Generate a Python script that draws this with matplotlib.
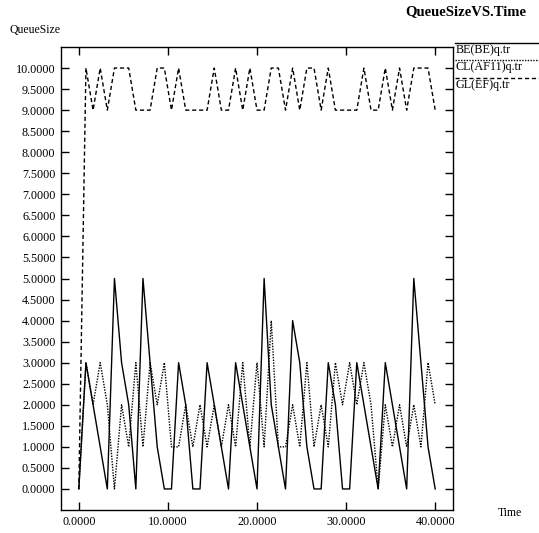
import numpy as np
import matplotlib
matplotlib.use("Agg")
import matplotlib.pyplot as plt
from matplotlib.lines import Line2D
from matplotlib.ticker import FormatStrFormatter, FixedLocator

plt.rcParams['font.family'] = ['Liberation Serif', 'DejaVu Serif']

# sample times (step 0.8)
time = [0.0, 0.8, 1.6, 2.4, 3.2, 4.0, 4.8, 5.6, 6.4, 7.2,
        8.0, 8.8, 9.6, 10.4, 11.2, 12.0, 12.8, 13.6, 14.4, 15.2,
        16.0, 16.8, 17.6, 18.4, 19.2, 20.0, 20.8, 21.6, 22.4, 23.2,
        24.0, 24.8, 25.6, 26.4, 27.2, 28.0, 28.8, 29.6, 30.4, 31.2,
        32.0, 32.8, 33.6, 34.4, 35.2, 36.0, 36.8, 37.6, 38.4, 39.2,
        40.0]

be_q = [0, 3, 2, 1, 0, 5, 3, 2, 0, 5,
        3, 1, 0, 0, 3, 2, 0, 0, 3, 2,
        1, 0, 3, 2, 1, 0, 5, 2, 1, 0,
        4, 3, 1, 0, 0, 3, 2, 0, 0, 3,
        2, 1, 0, 3, 2, 1, 0, 5, 3, 1,
        0]

cl_q = [0, 3, 2, 3, 2, 0, 2, 1, 3, 1,
        3, 2, 3, 1, 1, 2, 1, 2, 1, 2,
        1, 2, 1, 3, 1, 3, 1, 4, 1, 1,
        2, 1, 3, 1, 2, 1, 3, 2, 3, 2,
        3, 2, 0, 2, 1, 2, 1, 2, 1, 3,
        2]

gl_q = [0, 10, 9, 10, 9, 10, 10, 10, 9, 9,
        9, 10, 10, 9, 10, 9, 9, 9, 9, 10,
        9, 9, 10, 9, 10, 9, 9, 10, 10, 9,
        10, 9, 10, 10, 9, 10, 9, 9, 9, 9,
        10, 9, 9, 10, 9, 10, 9, 10, 10, 10,
        9]

series = [("BE(BE)q.tr", be_q, '-'),
          ("CL(AF11)q.tr", cl_q, (0, (1, 1))),
          ("GL(EF)q.tr", gl_q, (0, (3, 2)))]

x_ticks = [0, 10, 20, 30, 40]
y_ticks = np.arange(0, 10.01, 0.5)

W, H = 539, 533
fig = plt.figure(figsize=(W / 100, H / 100), dpi=100)
ax = fig.add_axes([61 / W, 1 - 510 / H, (453 - 61) / W, (510 - 47) / H])

for name, vals, ls in series:
    ax.plot(time, vals, color='black', lw=1.0, linestyle=ls)

ax.set_xlim(-2, 42)
ax.set_ylim(-0.5, 10.5)
ax.xaxis.set_major_locator(FixedLocator(x_ticks))
ax.yaxis.set_major_locator(FixedLocator(y_ticks))
ax.xaxis.set_major_formatter(FormatStrFormatter('%.4f'))
ax.yaxis.set_major_formatter(FormatStrFormatter('%.4f'))
ax.tick_params(direction='in', length=6, width=1, labelsize=8.7,
               top=True, right=True, pad=4)
for s in ax.spines.values():
    s.set_linewidth(1)

fig.text(466 / W, 1 - 12 / H, "QueueSizeVS.Time", ha='center', va='center',
         fontsize=10.5, fontweight='bold')
fig.text(10 / W, 1 - 30 / H, "QueueSize", ha='left', va='center', fontsize=8.5)
fig.text(498 / W, 1 - 513 / H, "Time", ha='left', va='center', fontsize=8.5)

# legend outside the box, line above each label
leg_line_y = [43, 60, 78]
leg_text_y = [50, 67, 85]
for (name, vals, ls), ly, ty in zip(series, leg_line_y, leg_text_y):
    fig.add_artist(Line2D([455 / W, 1.0], [1 - ly / H, 1 - ly / H],
                          transform=fig.transFigure, color='black',
                          lw=1.0, linestyle=ls))
    fig.text(456 / W, 1 - ty / H, name, ha='left', va='center', fontsize=8.7)

fig.savefig("out.png", dpi=100)
